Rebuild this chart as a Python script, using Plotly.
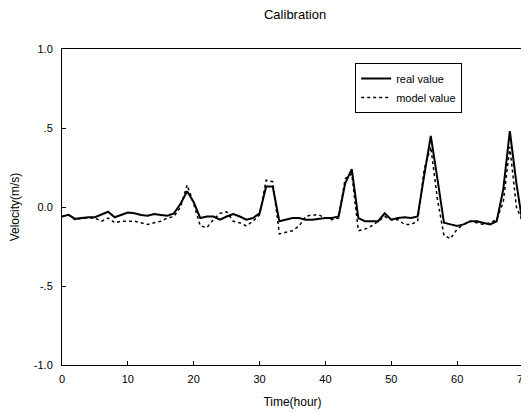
import plotly.graph_objects as go

time_hours = list(range(0, 71))
real_value = [
    -0.06, -0.05, -0.075, -0.07, -0.065, -0.065, -0.05, -0.03, -0.065, -0.05,
    -0.035, -0.04, -0.05, -0.055, -0.045, -0.05, -0.055, -0.04, 0.02, 0.10,
    0.03, -0.07, -0.06, -0.06, -0.08, -0.06, -0.045, -0.06, -0.08, -0.07,
    -0.04, 0.13, 0.13, -0.09, -0.08, -0.07, -0.07, -0.08, -0.08, -0.075,
    -0.07, -0.07, -0.06, 0.15, 0.24, -0.07, -0.09, -0.09, -0.09, -0.04,
    -0.08, -0.07, -0.065, -0.07, -0.06, 0.20, 0.45, 0.18, -0.10, -0.11,
    -0.12, -0.11, -0.09, -0.09, -0.10, -0.11, -0.09, 0.11, 0.48, 0.15,
    -0.12,
]
model_value = [
    -0.06, -0.05, -0.08, -0.07, -0.07, -0.07, -0.09, -0.07, -0.10, -0.09,
    -0.09, -0.09, -0.10, -0.11, -0.10, -0.09, -0.07, -0.06, 0.00, 0.14,
    0.02, -0.12, -0.13, -0.08, -0.04, -0.03, -0.09, -0.10, -0.12, -0.09,
    -0.05, 0.17, 0.16, -0.17, -0.16, -0.15, -0.12, -0.06, -0.05, -0.05,
    -0.07, -0.08, -0.07, 0.18, 0.21, -0.15, -0.14, -0.12, -0.09, -0.06,
    -0.08, -0.08, -0.11, -0.11, -0.09, 0.24, 0.38, 0.05, -0.18, -0.20,
    -0.14, -0.11, -0.09, -0.10, -0.11, -0.10, -0.08, 0.03, 0.38, 0.00,
    -0.10,
]
x_ticks = [0, 10, 20, 30, 40, 50, 60, 70]
y_tick_vals = [1.0, 0.5, 0.0, -0.5, -1.0]
y_tick_text = ["1.0", ".5", "0.0", "-.5", "-1.0"]

fig = go.Figure()
fig.add_trace(go.Scatter(x=time_hours, y=real_value, mode="lines", name="real value",
                         line=dict(color="black", width=2)))
fig.add_trace(go.Scatter(x=time_hours, y=model_value, mode="lines", name="model value",
                         line=dict(color="black", width=1.5, dash="dot")))

font_family = "Liberation Sans, Arial, sans-serif"
fig.update_layout(
    width=521, height=407,
    margin=dict(l=54, r=6, t=41, b=50, autoexpand=False),
    paper_bgcolor="white", plot_bgcolor="white",
    font=dict(family=font_family, color="black", size=11),
    title=dict(text="Calibration", x=0.551, xanchor="center", y=0.983, yanchor="middle",
               font=dict(size=13, family=font_family)),
    legend=dict(x=0.636, y=0.956, xanchor="left", yanchor="top",
                bordercolor="black", borderwidth=1, bgcolor="white",
                font=dict(size=11, family=font_family), tracegroupgap=0,
                itemwidth=30),
    xaxis=dict(range=[0, 70], tickvals=x_ticks, showgrid=False, zeroline=False,
               showline=True, linecolor="black", linewidth=1, mirror=True,
               ticks="inside", ticklen=4, tickcolor="black", automargin=False,
               ticklabelstandoff=4, ticklabeloverflow="allow",
               title=dict(text="Time(hour)", font=dict(size=12), standoff=13),
               tickfont=dict(size=11)),
    yaxis=dict(range=[-1.0, 1.0], tickvals=y_tick_vals, ticktext=y_tick_text,
               showgrid=False, zeroline=False,
               showline=True, linecolor="black", linewidth=1, mirror=True,
               ticks="inside", ticklen=4, tickcolor="black", automargin=False,
               ticklabelstandoff=6, ticklabeloverflow="allow",
               title=dict(text="Velocity(m/s)", font=dict(size=12), standoff=12),
               tickfont=dict(size=11)),
)

fig.write_html("out.html")
